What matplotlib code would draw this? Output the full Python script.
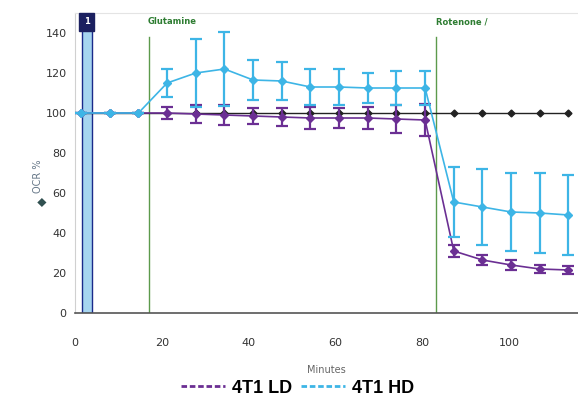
import matplotlib.pyplot as plt
from matplotlib.lines import Line2D
from matplotlib.patches import Rectangle

# measurement times (minutes)
t = [1.4, 8.0, 14.6, 21.2, 27.8, 34.4, 41.0, 47.6, 54.2, 60.8, 67.4, 74.0,
     80.6, 87.2, 93.8, 100.4, 107.0, 113.6]

ld = [100, 100, 100, 100, 99.5, 99, 98.5, 98, 97.5, 97.5, 97.5, 97,
      96.5, 31, 26.5, 24, 22, 21.5]
ld_err = [0, 0, 0, 3, 4.5, 5, 4, 4.5, 5.5, 5, 5.5, 7,
          8, 3, 2.5, 2.5, 2, 2]

hd = [100, 100, 100, 115, 120, 122, 116.5, 116, 113, 113, 112.5, 112.5,
      112.5, 55.5, 53, 50.5, 50, 49]
hd_err = [0, 0, 0, 7, 17, 18.5, 10, 9.5, 9, 9, 7.5, 8.5,
          8.5, 17.5, 19, 19.5, 20, 20]

ctrl = [100] * len(t)

inj_x = [17.0, 83.2]
inj_names = ['Glutamine', 'Rotenone /']

purple = '#6b2f93'
blue = '#3db5e6'
green = '#5c9a4c'

fig = plt.figure(figsize=(5.78, 3.98), dpi=100)
ax = fig.add_axes([75/578, 85/398, 503/578, 300/398])

# measurement window bar
ax.add_patch(Rectangle((1.5, 0), 2.5, 143, facecolor='#a6d5f0', edgecolor='#1a2a8a',
                       lw=1.0, zorder=2))
ax.text(2.75, 145.5, '1', ha='center', va='center', color='white', fontsize=6,
        fontweight='bold', zorder=4,
        bbox=dict(boxstyle='square,pad=0.55', fc='#1b2060', ec='#1b2060'))

for x, name in zip(inj_x, inj_names):
    ax.plot([x, x], [0, 138], color=green, lw=1.0, zorder=1)
    ax.text(x - 0.2, 145.5, name, color='#2e7d32', fontsize=6, fontweight='bold',
            ha='left', va='center')

ax.plot(t, ctrl, color='#222222', marker='D', ms=3.5, lw=1.0, zorder=3)
ax.errorbar(t, ld, yerr=ld_err, color=purple, marker='D', ms=4, lw=1.2,
            elinewidth=1.6, capsize=4, capthick=1.6, zorder=4)
ax.errorbar(t, hd, yerr=hd_err, color=blue, marker='D', ms=4, lw=1.2,
            elinewidth=1.6, capsize=4, capthick=1.6, zorder=5)

ax.set_xlim(0, 115.8)
ax.set_ylim(0, 150)
ax.set_xticks([0, 20, 40, 60, 80, 100])
ax.set_yticks([0, 20, 40, 60, 80, 100, 120, 140])
ax.tick_params(length=0, labelsize=8, colors='#333333', pad=6)
ax.tick_params(axis='x', pad=18)

ax.spines['right'].set_visible(False)
ax.spines['top'].set_color('#e4e4e4')
ax.spines['left'].set_color('#d0d0d0')
ax.spines['bottom'].set_color('#555555')
ax.spines['bottom'].set_linewidth(1.2)

ax.set_xlabel('Minutes', fontsize=7, color='#666666', labelpad=12)
ax.set_ylabel('OCR %', fontsize=7, color='#667788')
ax.yaxis.set_label_coords(-0.063, 0.455)
ax.text(-0.063, 0.37, '◆', transform=ax.transAxes, rotation=90, fontsize=8.5,
        color='#2f4f4f', ha='center', va='center')

handles = [Line2D([], [], color=purple, ls=(0, (2, 1)), lw=2),
           Line2D([], [], color=blue, ls=(0, (2, 1)), lw=2)]
fig.legend(handles, ['4T1 LD', '4T1 HD'], loc='center', bbox_to_anchor=(0.515, 0.025),
           ncol=2, frameon=False, handlelength=2.4, handletextpad=0.4, columnspacing=0.5,
           prop={'family': 'Liberation Sans', 'weight': 'bold', 'size': 13})

fig.savefig('out.png', dpi=100)
